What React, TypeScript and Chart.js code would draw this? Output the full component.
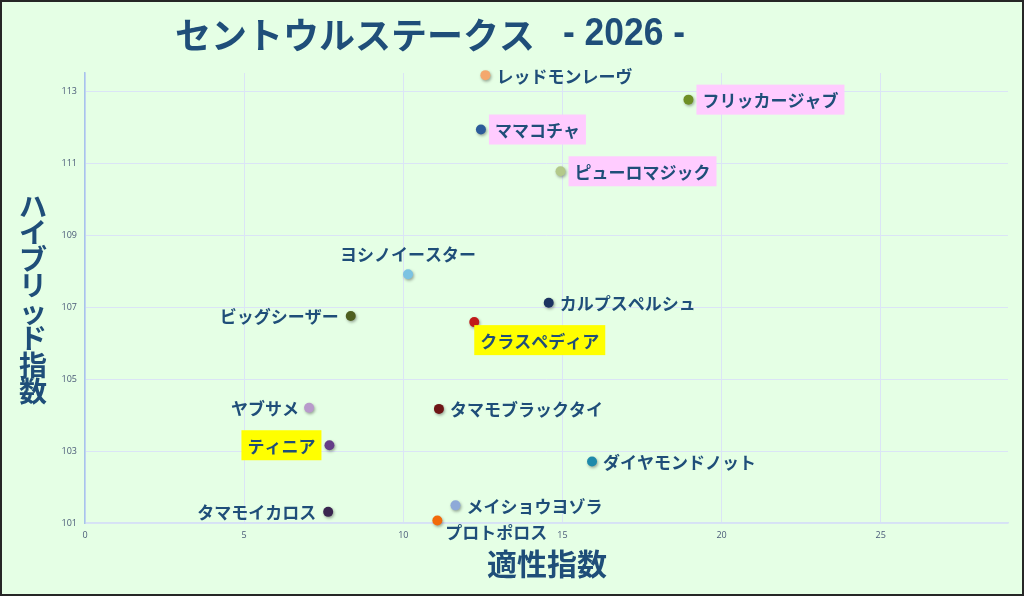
import React, { useEffect, useRef } from "react";
import { Chart, registerables } from "chart.js";

Chart.register(...registerables);

// ---- data ----
const horseNames: string[] = [
  "レッドモンレーヴ",
  "フリッカージャブ",
  "ママコチャ",
  "ピューロマジック",
  "ヨシノイースター",
  "カルプスペルシュ",
  "ビッグシーザー",
  "クラスペディア",
  "ヤブサメ",
  "タマモブラックタイ",
  "ティニア",
  "ダイヤモンドノット",
  "メイショウヨゾラ",
  "タマモイカロス",
  "プロトポロス",
];
const aptitudeIndex: number[] = [
  12.58, 18.96, 12.44, 14.94, 10.15, 14.57, 8.35, 12.23, 7.04, 11.12, 7.68, 15.93, 11.64, 7.64, 11.07,
];
const hybridIndex: number[] = [
  113.44, 112.76, 111.93, 110.77, 107.91, 107.12, 106.75, 106.58, 104.2, 104.17, 103.16, 102.71, 101.49, 101.31,
  101.07,
];
const xTickValues: number[] = [0, 5, 10, 15, 20, 25];
const yTickValues: number[] = [101, 103, 105, 107, 109, 111, 113];
const titleMain = "セントウルステークス";
const titleYear = "- 2026 -";
const xAxisTitle = "適性指数";
const yAxisTitle = "ハイブリッド指数";

// ---- styles ----
const pointColors: string[] = [
  "#f4a86e",
  "#6e8f25",
  "#2c5c9a",
  "#b3c98a",
  "#7cc3e2",
  "#1c3461",
  "#4e5f20",
  "#c01a1a",
  "#b89acb",
  "#6e1616",
  "#653e88",
  "#1e8aab",
  "#8eaad8",
  "#3a2650",
  "#f26a0a",
];
const labelHighlight: (string | null)[] = [
  null,
  "#ffccff",
  "#ffccff",
  "#ffccff",
  null,
  null,
  null,
  "#ffff00",
  null,
  null,
  "#ffff00",
  null,
  null,
  null,
  null,
];
// placement: [mode, dx, dy]
const labelPlacement: [string, number, number][] = [
  ["right", 11, 0],
  ["right", 14, 0],
  ["right", 14, 0],
  ["right", 14, 0],
  ["center", 0, -21],
  ["right", 11, 0],
  ["left", -12, 0],
  ["left-start", 6, 18],
  ["left", -10, 0],
  ["right", 11, 0],
  ["left", -14, 0],
  ["right", 11, 0],
  ["right", 11, 0],
  ["left", -12, 0],
  ["left-start", 8, 11],
];

const TEXT_COLOR = "#1f4e79";
const LABEL_FONT = "bold 17px 'Noto Sans CJK JP', 'Noto Sans', sans-serif";

const decorPlugin = {
  id: "decor",
  beforeDraw(chart: any) {
    const ctx = chart.ctx;
    ctx.save();
    ctx.fillStyle = "#e5ffe5";
    ctx.fillRect(0, 0, chart.width, chart.height);
    ctx.restore();
  },
  beforeDatasetsDraw(chart: any) {
    const ctx = chart.ctx;
    ctx.save();
    ctx.shadowColor = "rgba(0,0,0,0.35)";
    ctx.shadowBlur = 3;
    ctx.shadowOffsetX = 1;
    ctx.shadowOffsetY = 1.5;
  },
  afterDatasetsDraw(chart: any) {
    const ctx = chart.ctx;
    ctx.restore();
    const meta = chart.getDatasetMeta(0);
    ctx.save();
    ctx.font = LABEL_FONT;
    ctx.textBaseline = "middle";
    meta.data.forEach((pt: any, i: number) => {
      const name = horseNames[i];
      const [mode, dx, dy] = labelPlacement[i];
      const tw = ctx.measureText(name).width;
      let x0: number;
      if (mode === "right" || mode === "left-start") x0 = pt.x + dx;
      else if (mode === "left") x0 = pt.x + dx - tw;
      else x0 = pt.x + dx - tw / 2;
      const y = pt.y + dy;
      const bg = labelHighlight[i];
      if (bg) {
        ctx.fillStyle = bg;
        ctx.fillRect(x0 - 6, y - 15, tw + 12, 30);
      }
      ctx.fillStyle = TEXT_COLOR;
      ctx.textAlign = "left";
      ctx.fillText(name, x0, y + 1);
    });

    // title
    ctx.fillStyle = TEXT_COLOR;
    ctx.textBaseline = "middle";
    ctx.textAlign = "left";
    ctx.font = "bold 36px 'Noto Sans CJK JP', sans-serif";
    ctx.fillText(titleMain, 175, 35);
    ctx.save();
    ctx.font = "bold 38px 'Liberation Sans', 'DejaVu Sans', sans-serif";
    const yw = ctx.measureText(titleYear).width;
    const sx = 122 / yw;
    ctx.translate(563, 35);
    ctx.scale(sx, 1);
    ctx.fillText(titleYear, 0, 0);
    ctx.restore();

    // x axis title
    ctx.font = "bold 30px 'Noto Sans CJK JP', sans-serif";
    ctx.textAlign = "center";
    ctx.fillText(xAxisTitle, 547, 564);

    // y axis title, stacked vertically
    ctx.font = "bold 28px 'Noto Sans CJK JP', sans-serif";
    const chars = Array.from(yAxisTitle);
    const step = 26.5;
    const startY = 206;
    chars.forEach((c, k) => {
      ctx.fillText(c, 33, startY + k * step);
    });

    // frame border
    ctx.strokeStyle = "#262626";
    ctx.lineWidth = 2;
    ctx.strokeRect(1, 1, chart.width - 2, chart.height - 2);
    ctx.restore();
  },
};

export default function App() {
  const canvasRef = useRef<HTMLCanvasElement | null>(null);

  useEffect(() => {
    document.body.style.margin = "0";
    const canvas = canvasRef.current;
    if (!canvas) return;
    const points = aptitudeIndex.map((x, i) => ({ x, y: hybridIndex[i] }));
    const chart = new Chart(canvas, {
      type: "scatter",
      data: {
        datasets: [
          {
            label: "horses",
            data: points,
            clip: false,
            pointRadius: 5,
            pointHoverRadius: 5,
            pointBackgroundColor: pointColors,
            pointBorderColor: pointColors,
            pointBorderWidth: 0,
          },
        ],
      },
      options: {
        animation: false,
        responsive: false,
        maintainAspectRatio: false,
        devicePixelRatio: 1,
        layout: { padding: { top: 73, right: 16, left: 0, bottom: 0 } },
        plugins: {
          legend: { display: false },
          title: { display: false },
          tooltip: { enabled: false },
        },
        scales: {
          x: {
            type: "linear",
            min: 0,
            max: 29,
            afterBuildTicks: (scale: any) => {
              scale.ticks = xTickValues.map((v) => ({ value: v }));
            },
            afterFit: (scale: any) => {
              scale.height = 73;
            },
            grid: { color: "#dbe4f6", lineWidth: 1, drawTicks: false },
            border: { color: "#d6e2f4", width: 1.5 },
            ticks: {
              padding: 7,
              color: "#4a5a78",
              font: { size: 9, family: "'Open Sans', 'DejaVu Sans', sans-serif" },
            },
          },
          y: {
            type: "linear",
            min: 101,
            max: 113.5,
            afterBuildTicks: (scale: any) => {
              scale.ticks = yTickValues.map((v) => ({ value: v }));
            },
            afterFit: (scale: any) => {
              scale.width = 85;
            },
            grid: { color: "#dbe4f6", lineWidth: 1, drawTicks: false },
            border: { color: "#a7c4ea", width: 1.5 },
            ticks: {
              padding: 8,
              color: "#4a5a78",
              font: { size: 9, family: "'Open Sans', 'DejaVu Sans', sans-serif" },
            },
          },
        },
      },
      plugins: [decorPlugin],
    });
    return () => chart.destroy();
  }, []);

  return (
    <div style={{ width: 1024, height: 596 }}>
      <canvas ref={canvasRef} width={1024} height={596} style={{ display: "block" }} />
    </div>
  );
}
